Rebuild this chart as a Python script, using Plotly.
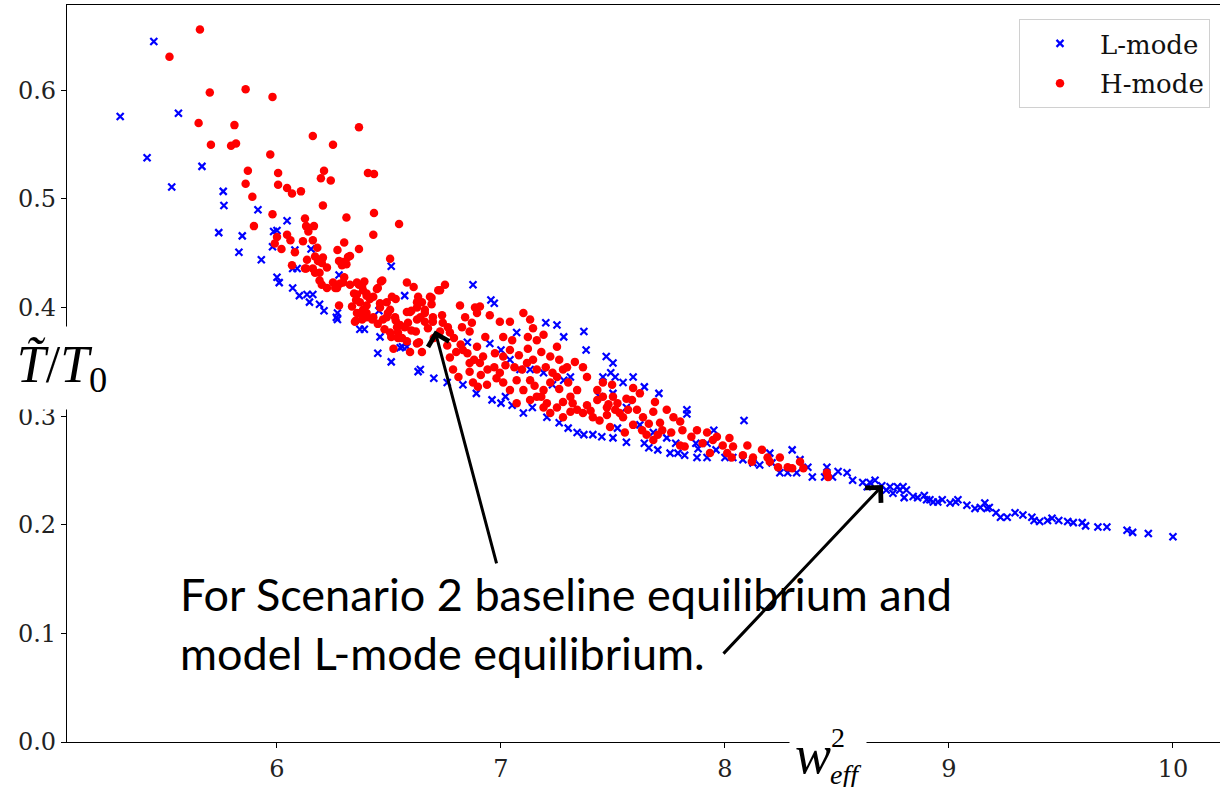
import plotly.graph_objects as go

# ---------------- data ----------------
L_x = [5.30, 5.45, 5.42, 5.53, 5.56, 5.665, 5.76, 5.763, 5.74, 5.845, 5.83, 5.915, 5.93, 5.985, 6.0,
       6.045, 5.98, 6.0, 6.01, 6.07, 6.08, 6.09, 6.10, 6.16, 6.145, 6.19, 6.21, 6.277, 6.27, 6.27,
       6.57, 6.51, 6.37, 6.39, 6.46, 6.455, 6.56, 6.134, 6.45, 6.51, 6.63, 6.70, 6.76, 6.875, 6.97,
       6.955, 6.64, 6.83, 6.89, 6.96, 7.05, 7.07, 7.20, 7.25, 7.28, 7.37, 7.38, 7.47, 7.50, 7.49,
       7.545, 7.455, 7.50, 7.56, 7.205, 7.26, 7.30, 7.34, 7.37, 7.41, 7.45, 7.50, 7.56, 7.52, 7.14,
       7.10, 6.265, 6.58, 6.55, 6.85, 6.95, 7.0, 7.04, 7.085, 7.13, 7.19, 7.23, 7.28, 7.31, 7.51,
       7.59, 7.64, 7.705, 7.44, 7.64, 7.66, 7.70, 7.755, 7.79, 7.82, 7.83, 7.83, 7.875, 7.92, 7.87,
       7.95, 7.96, 8.085, 8.035, 8.08, 8.125, 8.155, 8.20, 8.21, 8.245, 8.28, 8.30, 8.335, 8.32, 8.37,
       8.39, 8.455, 8.445, 8.48, 8.505, 8.545, 8.57, 8.615, 8.647, 8.67, 8.635, 8.70, 8.72, 8.737, 8.75,
       8.77, 8.78, 8.795, 8.81, 8.80, 8.84, 8.86, 8.89, 8.90, 8.915, 8.93, 8.95, 8.97, 9.005, 9.03,
       9.04, 9.08, 9.116, 9.14, 9.16, 9.17, 9.18, 9.21, 9.23, 9.26, 9.295, 9.33, 9.37, 9.38, 9.405,
       9.44, 9.46, 9.49, 9.53, 9.555, 9.595, 9.61, 9.665, 9.705, 9.795, 9.82, 9.89, 10.0,
       7.62, 7.68, 7.74, 7.78, 7.88, 8.0, 7.92, 7.0, 7.02, 6.152, 6.07]
L_y = [0.576, 0.645, 0.538, 0.511, 0.579, 0.530, 0.507, 0.494, 0.469, 0.466, 0.451, 0.490, 0.444, 0.470, 0.471,
       0.480, 0.456, 0.428, 0.423, 0.418, 0.453, 0.436, 0.411, 0.412, 0.405, 0.403, 0.397, 0.430, 0.395, 0.389,
       0.411, 0.438, 0.380, 0.380, 0.373, 0.397, 0.364, 0.412, 0.358, 0.350, 0.341, 0.335, 0.331, 0.421, 0.404,
       0.407, 0.343, 0.329, 0.321, 0.315, 0.310, 0.377, 0.386, 0.384, 0.373, 0.378, 0.361, 0.355, 0.349, 0.340,
       0.331, 0.336, 0.321, 0.308, 0.299, 0.294, 0.289, 0.285, 0.283, 0.283, 0.281, 0.280, 0.276, 0.289, 0.308,
       0.303, 0.391, 0.364, 0.363, 0.368, 0.367, 0.361, 0.352, 0.343, 0.343, 0.340, 0.329, 0.333, 0.336, 0.336,
       0.336, 0.327, 0.321, 0.318, 0.275, 0.271, 0.269, 0.266, 0.266, 0.264, 0.306, 0.302, 0.262, 0.262, 0.275,
       0.287, 0.269, 0.296, 0.262, 0.260, 0.257, 0.255, 0.266, 0.257, 0.248, 0.248, 0.269, 0.260, 0.248, 0.253,
       0.244, 0.253, 0.244, 0.244, 0.249, 0.248, 0.241, 0.239, 0.239, 0.241, 0.235, 0.236, 0.232, 0.235, 0.229,
       0.235, 0.232, 0.235, 0.232, 0.225, 0.226, 0.225, 0.227, 0.223, 0.223, 0.221, 0.221, 0.223, 0.220, 0.221,
       0.223, 0.218, 0.215, 0.216, 0.220, 0.215, 0.216, 0.211, 0.207, 0.207, 0.211, 0.209, 0.207, 0.204, 0.203,
       0.204, 0.206, 0.204, 0.203, 0.202, 0.202, 0.199, 0.198, 0.198, 0.195, 0.193, 0.192, 0.189,
       0.292, 0.285, 0.280, 0.275, 0.270, 0.262, 0.275, 0.312, 0.318, 0.454, 0.436]

H_x = [5.656, 5.52, 5.70, 5.86, 5.98, 5.65, 5.81, 5.705, 5.795, 5.817, 5.97, 6.16, 6.366, 6.25, 5.87,
       5.86, 6.005, 6.005, 6.045, 6.067, 6.107, 6.21, 6.196, 6.24, 6.406, 6.433, 5.89, 6.205, 5.98, 5.897,
       6.31, 6.433, 6.545, 6.43, 6.125, 6.13, 6.165, 6.14, 6.0, 6.045, 6.06, 5.99, 6.02, 6.08, 6.116,
       6.16, 6.18, 6.30, 6.366, 6.27, 6.505, 6.067, 6.13, 6.17, 6.183, 6.205, 6.223, 6.17, 6.277, 6.29,
       6.31, 6.326, 6.19, 6.20, 6.223, 6.26, 6.25, 6.295, 6.30, 6.326, 6.366, 6.39, 6.464, 6.58, 6.61,
       6.446, 6.344, 6.353, 6.335, 6.40, 6.415, 6.46, 6.49, 6.53, 6.63, 6.625, 6.69, 6.72, 6.69, 6.277,
       6.353, 6.38, 6.37, 6.40, 6.425, 6.49, 6.505, 6.53, 6.55, 6.58, 6.60, 6.625, 6.66, 6.66, 6.696,
       6.51, 6.54, 6.58, 6.634, 6.134, 6.20, 6.16, 6.125, 6.19, 6.295, 6.317, 6.357, 6.384, 6.357, 6.40,
       6.348, 6.28, 6.268, 6.38, 6.47, 6.45, 6.43, 6.40, 6.37, 6.357, 6.384, 6.40, 6.43, 6.46, 6.513,
       6.495, 6.473, 6.527, 6.505, 6.536, 6.54, 6.57, 6.594, 6.585, 6.625, 6.647, 6.64, 6.66, 6.683, 6.728,
       6.75, 6.737, 6.696, 6.674, 6.625, 6.594, 6.647, 6.558, 6.60, 6.728, 6.763, 6.772, 6.817, 6.84, 6.826,
       6.87, 6.86, 6.884, 6.906, 6.893, 6.95, 6.93, 6.893, 6.83, 6.80, 6.772, 6.786, 6.81, 6.86, 6.875,
       6.906, 6.92, 6.94, 6.897, 6.9375, 6.973, 6.995, 7.04, 7.01, 7.05, 7.04, 7.01, 6.995, 7.01, 7.04,
       7.07, 7.094, 7.06, 7.10, 7.13, 7.143, 7.12, 7.16, 7.19, 7.18, 7.143, 7.116, 7.16, 7.13, 7.10,
       7.07, 7.13, 7.16, 7.19, 7.22, 7.25, 7.26, 7.277, 7.25, 7.22, 7.205, 7.25, 7.277, 7.31, 7.34,
       7.33, 7.295, 7.366, 7.384, 7.30, 7.34, 7.366, 7.384, 7.43, 7.43, 7.455, 7.496, 7.50, 7.473, 7.51,
       7.545, 7.553, 7.41, 7.31, 7.22, 7.277, 7.19, 7.455, 7.473, 7.52, 7.53, 7.487, 7.59, 7.585, 7.62,
       7.567, 7.607, 7.634, 7.59, 7.63, 7.65, 7.68, 7.6875, 7.68, 7.71, 7.74, 7.72, 7.77, 7.76, 7.80,
       7.81, 7.82, 7.80, 7.85, 7.875, 7.90, 7.92, 7.946, 7.964, 7.933, 7.99, 8.02, 8.01, 8.036, 8.03,
       8.08, 8.10, 8.12, 8.125, 8.165, 8.19, 8.20, 8.237, 8.245, 8.28, 8.30, 8.335, 8.35, 8.455, 8.46,
       6.76, 6.79, 6.82, 6.85, 6.88, 6.91, 6.86, 6.97, 6.98, 7.02, 7.08, 7.12, 7.20, 7.23, 7.15,
       7.18, 7.26, 7.32, 7.40, 7.44, 7.48, 7.56, 7.66, 7.70, 6.70, 6.74, 6.62, 6.45, 6.48, 6.52]
H_y = [0.656, 0.631, 0.598, 0.601, 0.594, 0.570, 0.568, 0.550, 0.549, 0.551, 0.541, 0.558, 0.566, 0.550, 0.526,
       0.514, 0.524, 0.513, 0.510, 0.505, 0.507, 0.526, 0.519, 0.517, 0.524, 0.523, 0.502, 0.494, 0.486, 0.475,
       0.483, 0.487, 0.477, 0.467, 0.482, 0.475, 0.475, 0.470, 0.465, 0.467, 0.462, 0.459, 0.454, 0.451, 0.461,
       0.462, 0.455, 0.460, 0.454, 0.453, 0.445, 0.439, 0.436, 0.447, 0.443, 0.446, 0.437, 0.432, 0.443, 0.439,
       0.440, 0.4475, 0.425, 0.421, 0.418, 0.418, 0.423, 0.423, 0.428, 0.421, 0.421, 0.424, 0.424, 0.423, 0.419,
       0.417, 0.413, 0.407, 0.401, 0.413, 0.408, 0.404, 0.405, 0.408, 0.410, 0.405, 0.409, 0.416, 0.403, 0.402,
       0.388, 0.389, 0.395, 0.395, 0.389, 0.391, 0.398, 0.388, 0.384, 0.396, 0.397, 0.389, 0.398, 0.387, 0.391,
       0.373, 0.377, 0.369, 0.368, 0.444, 0.441, 0.436, 0.436, 0.432, 0.442, 0.4465, 0.423, 0.416, 0.412, 0.402,
       0.387, 0.422, 0.418, 0.420, 0.425, 0.418, 0.410, 0.411, 0.405, 0.395, 0.398, 0.391, 0.391, 0.400, 0.410,
       0.395, 0.389, 0.391, 0.377, 0.382, 0.372, 0.382, 0.396, 0.386, 0.400, 0.405, 0.391, 0.395, 0.410, 0.416,
       0.421, 0.393, 0.387, 0.381, 0.367, 0.359, 0.359, 0.372, 0.379, 0.378, 0.382, 0.377, 0.402, 0.391, 0.382,
       0.386, 0.378, 0.400, 0.401, 0.395, 0.393, 0.373, 0.364, 0.361, 0.359, 0.354, 0.343, 0.336, 0.341, 0.331,
       0.349, 0.355, 0.343, 0.327, 0.329, 0.358, 0.387, 0.387, 0.373, 0.370, 0.361, 0.355, 0.340, 0.331, 0.324,
       0.333, 0.343, 0.345, 0.395, 0.389, 0.381, 0.373, 0.370, 0.375, 0.359, 0.352, 0.349, 0.343, 0.333, 0.324,
       0.312, 0.315, 0.318, 0.324, 0.355, 0.364, 0.352, 0.343, 0.336, 0.331, 0.312, 0.308, 0.313, 0.318, 0.324,
       0.350, 0.345, 0.345, 0.336, 0.331, 0.306, 0.303, 0.310, 0.315, 0.324, 0.331, 0.329, 0.318, 0.308, 0.306,
       0.299, 0.285, 0.299, 0.304, 0.303, 0.299, 0.308, 0.318, 0.301, 0.312, 0.303, 0.290, 0.326, 0.315, 0.321,
       0.306, 0.306, 0.299, 0.292, 0.287, 0.283, 0.278, 0.313, 0.304, 0.294, 0.306, 0.287, 0.299, 0.285, 0.295,
       0.287, 0.272, 0.273, 0.281, 0.287, 0.275, 0.285, 0.278, 0.281, 0.266, 0.273, 0.280, 0.266, 0.272, 0.262,
       0.264, 0.273, 0.258, 0.262, 0.269, 0.262, 0.258, 0.253, 0.262, 0.253, 0.252, 0.258, 0.252, 0.248, 0.244,
       0.365, 0.372, 0.366, 0.358, 0.352, 0.338, 0.349, 0.345, 0.335, 0.347, 0.356, 0.362, 0.345, 0.340, 0.328,
       0.318, 0.325, 0.312, 0.305, 0.296, 0.311, 0.316, 0.293, 0.283, 0.372, 0.386, 0.378, 0.385, 0.380, 0.362]

x_ticks = [6, 7, 8, 9, 10]
y_ticks = [0.0, 0.1, 0.2, 0.3, 0.4, 0.5, 0.6]
series_names = ["L-mode", "H-mode"]
note_text = "For Scenario 2 baseline equilibrium and<br>model L-mode equilibrium."
arrow_tips = [(6.705, 0.379), (8.705, 0.2366)]
arrow_tails = [(6.982, 0.163), (7.987, 0.080)]

# ---------------- figure ----------------
fig = go.Figure()
fig.add_trace(go.Scatter(
    x=L_x, y=L_y, mode="markers", name=series_names[0], legendgroup="L",
    marker=dict(symbol="x-thin", size=7, color="#0000ff",
                line=dict(color="#0000ff", width=2.2)),
))
fig.add_trace(go.Scatter(
    x=H_x, y=H_y, mode="markers", name=series_names[1], legendgroup="H",
    marker=dict(symbol="circle", size=8.5, color="#ff0000", line=dict(width=0)),
))

W, H = 1220, 787
ML, MR, MT, MB = 67, 0, 5, 45
PW, PH = W - ML - MR, H - MT - MB


def px_x(p):
    return (p - ML) / PW


def px_y(p):
    return (H - MB - p) / PH


serif = "DejaVu Serif"
fig.update_layout(
    width=W, height=H,
    margin=dict(l=ML, r=MR, t=MT, b=MB),
    paper_bgcolor="white", plot_bgcolor="white",
    showlegend=True,
    legend=dict(
        x=px_x(1210), y=px_y(19), xanchor="right", yanchor="top",
        bgcolor="white", bordercolor="#d0d0d0", borderwidth=1,
        font=dict(family=serif, size=26, color="#111111"),
        itemwidth=70, tracegroupgap=3,
    ),
    xaxis=dict(
        range=[5.0625, 10.21], tickvals=x_ticks, ticktext=[str(v) for v in x_ticks],
        showgrid=False, zeroline=False, showline=True, linecolor="black", linewidth=1.3,
        mirror=True, ticks="outside", ticklen=5, tickwidth=1.2, tickcolor="black",
        tickfont=dict(family=serif, size=24, color="#222222"),
    ),
    yaxis=dict(
        range=[0, 0.6786], tickvals=y_ticks, ticktext=["%.1f" % v for v in y_ticks],
        showgrid=False, zeroline=False, showline=True, linecolor="black", linewidth=1.3,
        ticks="outside", ticklen=5, tickwidth=1.2, tickcolor="black",
        tickfont=dict(family=serif, size=24, color="#222222"),
    ),
)

ann = []
# arrows
for (tx, ty), (sx, sy) in zip(arrow_tips, arrow_tails):
    ann.append(dict(
        x=tx, y=ty, xref="x", yref="y", ax=sx, ay=sy, axref="x", ayref="y",
        text="", showarrow=True, arrowhead=4, arrowsize=1.4, arrowwidth=3,
        arrowcolor="black", standoff=0, startstandoff=0,
    ))
# y-axis label with white background covering the spine
ann.append(dict(
    x=px_x(0), y=px_y(368), xref="paper", yref="paper", xanchor="left", yanchor="middle",
    text="<i>T\u0303</i>/<i>T</i><sub>0</sub>", showarrow=False,
    font=dict(family="Liberation Serif", size=52, color="black"),
    bgcolor="white", width=120, height=80, align="center",
))
# x-axis label (white block + pieces)
ann.append(dict(
    x=px_x(828), y=px_y(762), xref="paper", yref="paper", xanchor="center", yanchor="middle",
    text="", showarrow=False, bgcolor="white", width=74, height=52,
))
ann.append(dict(
    x=px_x(813), y=px_y(755), xref="paper", yref="paper", xanchor="center", yanchor="middle",
    text="<i>w</i>", showarrow=False,
    font=dict(family="Liberation Serif", size=54, color="black"),
))
ann.append(dict(
    x=px_x(838), y=px_y(737), xref="paper", yref="paper", xanchor="center", yanchor="middle",
    text="2", showarrow=False,
    font=dict(family="Liberation Serif", size=28, color="black"),
))
ann.append(dict(
    x=px_x(845), y=px_y(774), xref="paper", yref="paper", xanchor="center", yanchor="middle",
    text="<i>eff</i>", showarrow=False,
    font=dict(family="Liberation Serif", size=28, color="black"),
))
# main note
ann.append(dict(
    x=px_x(178), y=px_y(565), xref="paper", yref="paper", xanchor="left", yanchor="top",
    text=note_text, showarrow=False, align="left",
    font=dict(family="Lato", size=45, color="black"),
))
fig.update_layout(annotations=ann)

fig.write_html(
    "out.html",
    config={"displayModeBar": False},
    post_script="document.body.style.margin='0';document.body.style.padding='0';",
)
